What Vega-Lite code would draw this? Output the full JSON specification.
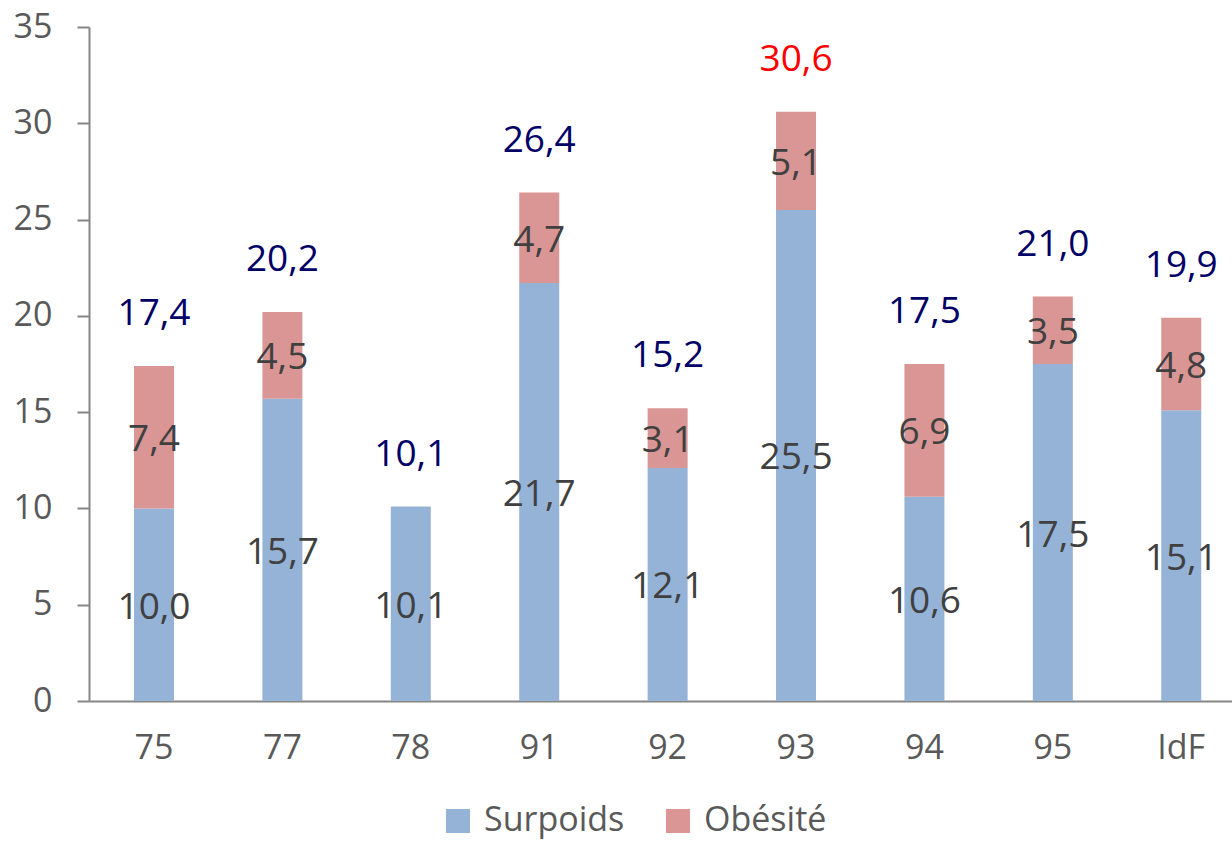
{
  "$schema": "https://vega.github.io/schema/vega-lite/v6.json",
  "width": 1143,
  "height": 674,
  "autosize": "none",
  "padding": {"left": 89, "top": 27, "right": 0, "bottom": 141},
  "background": "white",
  "config": {
    "view": {"stroke": null},
    "font": "Open Sans",
    "locale": {"number": {"decimal": ",", "thousands": " ", "grouping": [3], "currency": ["", " €"]}},
    "axis": {"grid": false, "domainColor": "#868686", "domainWidth": 2, "tickColor": "#868686", "tickWidth": 2, "labelColor": "#595959", "labelFontSize": 34, "labelFont": "Open Sans"}
  },
  "data": {
    "values": [
      {"dept": "75", "type": "Surpoids", "value": 10.0},
      {"dept": "75", "type": "Obésité", "value": 7.4},
      {"dept": "77", "type": "Surpoids", "value": 15.7},
      {"dept": "77", "type": "Obésité", "value": 4.5},
      {"dept": "78", "type": "Surpoids", "value": 10.1},
      {"dept": "91", "type": "Surpoids", "value": 21.7},
      {"dept": "91", "type": "Obésité", "value": 4.7},
      {"dept": "92", "type": "Surpoids", "value": 12.1},
      {"dept": "92", "type": "Obésité", "value": 3.1},
      {"dept": "93", "type": "Surpoids", "value": 25.5},
      {"dept": "93", "type": "Obésité", "value": 5.1},
      {"dept": "94", "type": "Surpoids", "value": 10.6},
      {"dept": "94", "type": "Obésité", "value": 6.9},
      {"dept": "95", "type": "Surpoids", "value": 17.5},
      {"dept": "95", "type": "Obésité", "value": 3.5},
      {"dept": "IdF", "type": "Surpoids", "value": 15.1},
      {"dept": "IdF", "type": "Obésité", "value": 4.8}
    ]
  },
  "transform": [
    {"stack": "value", "groupby": ["dept"], "sort": [{"field": "type", "order": "descending"}], "as": ["v0", "v1"]},
    {"calculate": "(datum.v0 + datum.v1) / 2", "as": "mid"}
  ],
  "encoding": {
    "x": {
      "field": "dept",
      "type": "nominal",
      "sort": null,
      "title": null,
      "scale": {"paddingInner": 0.6885, "paddingOuter": 0.295, "align": 0.594},
      "axis": {"ticks": false, "labelAngle": 0, "labelPadding": 30}
    }
  },
  "layer": [
    {
      "mark": {"type": "bar"},
      "encoding": {
        "y": {
          "field": "v0",
          "type": "quantitative",
          "title": null,
          "scale": {"domain": [0, 35], "nice": false, "zero": true},
          "axis": {"values": [0, 5, 10, 15, 20, 25, 30, 35], "tickSize": 12, "labelPadding": 25}
        },
        "y2": {"field": "v1"},
        "color": {
          "field": "type",
          "type": "nominal",
          "title": null,
          "scale": {"domain": ["Surpoids", "Obésité"], "range": ["#95B3D7", "#D99694"]},
          "legend": {
            "orient": "none",
            "direction": "horizontal",
            "legendX": 352,
            "legendY": 777,
            "symbolType": "square",
            "symbolSize": 576,
            "symbolStrokeWidth": 0,
            "labelFontSize": 34,
            "labelColor": "#595959",
            "labelFont": "Open Sans",
            "labelOffset": 9,
            "columnPadding": 36
          }
        }
      }
    },
    {
      "mark": {"type": "text", "fontSize": 37, "color": "#404040", "dy": 3},
      "encoding": {
        "y": {"field": "mid", "type": "quantitative", "title": null},
        "text": {"field": "value", "type": "quantitative", "format": ".1f"}
      }
    },
    {
      "transform": [{"aggregate": [{"op": "sum", "field": "value", "as": "total"}], "groupby": ["dept"]}],
      "mark": {"type": "text", "fontSize": 37, "dy": -52},
      "encoding": {
        "y": {"field": "total", "type": "quantitative", "title": null},
        "text": {"field": "total", "type": "quantitative", "format": ".1f"},
        "color": {"condition": {"test": "datum.dept === '93'", "value": "#FF0000"}, "value": "#000066"}
      }
    }
  ]
}
